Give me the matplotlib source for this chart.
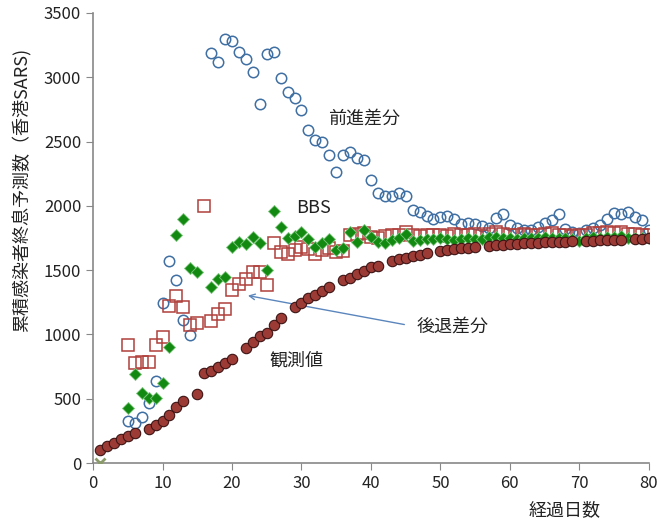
import numpy as np
import matplotlib
matplotlib.use("Agg")
import matplotlib.pyplot as plt

plt.rcParams['font.family'] = ['Noto Sans CJK JP', 'DejaVu Sans']

# 観測値 (observed cumulative cases)
obs_day = [1, 2, 3, 4, 5, 6, 8, 9, 10, 11, 12, 13, 15, 16, 17, 18, 19, 20, 22, 23, 24, 25, 26, 27,
           29, 30, 31, 32, 33, 34, 36, 37, 38, 39, 40, 41, 43, 44, 45, 46, 47, 48, 50, 51, 52, 53,
           54, 55, 57, 58, 59, 60, 61, 62, 63, 64, 65, 66, 67, 68, 69, 71, 72, 73, 74, 75, 76,
           78, 79, 80]
obs_val = [101, 135, 158, 184, 212, 236, 267, 296, 327, 376, 433, 485, 537, 698, 715, 744, 775, 806,
           892, 938, 988, 1008, 1070, 1125, 1210, 1245, 1280, 1310, 1340, 1371, 1420, 1440, 1467,
           1496, 1522, 1535, 1571, 1586, 1597, 1610, 1620, 1636, 1649, 1657, 1664, 1670, 1675, 1680,
           1688, 1693, 1698, 1702, 1705, 1708, 1711, 1714, 1716, 1718, 1720, 1722, 1724, 1728, 1730,
           1732, 1734, 1736, 1738, 1742, 1745, 1748]

# 前進差分 (forward difference)
fwd_day = [5, 6, 7, 8, 9, 10, 11, 12, 13, 14, 17, 18, 19, 20, 21, 22, 23, 24, 25, 26, 27, 28, 29, 30,
           31, 32, 33, 34, 35, 36, 37, 38, 39, 40, 41, 42, 43, 44, 45, 46, 47, 48, 49, 50, 51, 52,
           53, 54, 55, 56, 57, 58, 59, 60, 61, 62, 63, 64, 65, 66, 67, 68, 69, 70, 71, 72, 73, 74,
           75, 76, 77, 78, 79, 80]
fwd_val = [330, 315, 360, 465, 635, 1245, 1570, 1420, 1115, 995, 3190, 3120, 3295, 3285, 3195, 3140,
           3040, 2790, 3180, 3200, 2995, 2885, 2840, 2745, 2590, 2510, 2495, 2395, 2265, 2395, 2415,
           2370, 2355, 2200, 2100, 2075, 2075, 2100, 2075, 1965, 1955, 1920, 1895, 1915, 1920, 1895,
           1860, 1870, 1860, 1840, 1830, 1905, 1940, 1850, 1830, 1815, 1810, 1835, 1865, 1890, 1935,
           1820, 1800, 1790, 1810, 1830, 1855, 1900, 1945, 1935, 1955, 1910, 1890, 1810]

# 後退差分 (backward difference)
bwd_day = [5, 6, 7, 8, 9, 10, 11, 12, 13, 14, 15, 16, 17, 18, 19, 20, 21, 22, 23, 24, 25, 26, 27, 28,
           29, 30, 31, 32, 33, 34, 35, 36, 37, 38, 39, 40, 41, 42, 43, 44, 45, 46, 47, 48, 49, 50,
           51, 52, 53, 54, 55, 56, 57, 58, 59, 60, 61, 62, 63, 64, 65, 66, 67, 68, 69, 70, 71, 72,
           73, 74, 75, 76, 77, 78, 79, 80]
bwd_val = [918, 780, 788, 788, 918, 983, 1221, 1299, 1211, 1073, 1091, 1999, 1103, 1159, 1200, 1346,
           1390, 1429, 1488, 1488, 1384, 1709, 1643, 1625, 1657, 1682, 1662, 1625, 1657, 1670, 1643,
           1650, 1773, 1780, 1786, 1755, 1750, 1765, 1770, 1775, 1800, 1770, 1765, 1775, 1770, 1770,
           1765, 1780, 1775, 1770, 1780, 1765, 1785, 1795, 1780, 1775, 1770, 1780, 1775, 1770, 1785,
           1790, 1775, 1770, 1765, 1770, 1775, 1790, 1790, 1795, 1790, 1795, 1785, 1780, 1775, 1770]

# BBS
bbs_day = [5, 6, 7, 8, 9, 10, 11, 12, 13, 14, 15, 17, 18, 19, 20, 21, 22, 23, 24, 25, 26, 27, 28, 29,
           30, 31, 32, 33, 34, 35, 36, 37, 38, 39, 40, 41, 42, 43, 44, 45, 46, 47, 48, 49, 50, 51,
           52, 53, 54, 55, 56, 57, 58, 59, 60, 61, 62, 63, 64, 65, 66, 67, 68, 69, 70, 71, 72, 73,
           74, 75, 76, 77, 78, 79, 80]
bbs_val = [430, 695, 548, 503, 508, 620, 900, 1773, 1895, 1520, 1488, 1369, 1429, 1444, 1680, 1717,
           1700, 1760, 1711, 1504, 1958, 1836, 1748, 1766, 1799, 1740, 1680, 1709, 1740, 1660, 1676,
           1795, 1721, 1812, 1755, 1721, 1709, 1734, 1747, 1781, 1729, 1734, 1745, 1740, 1750, 1745,
           1738, 1742, 1748, 1745, 1740, 1755, 1760, 1752, 1748, 1745, 1750, 1748, 1752, 1758, 1750,
           1752, 1748, 1745, 1728, 1750, 1755, 1752, 1758, 1760, 1762, 1750, 1752, 1750, 1748]

fig = plt.figure(figsize=(6.57, 5.24), dpi=100)
ax = fig.add_axes([0.1416, 0.1164, 0.846, 0.8588])

ax.plot(fwd_day, fwd_val, 'o', ms=7.5, mfc='none', mec='#3f6fa3', mew=1.1, zorder=2)
ax.plot(bwd_day, bwd_val, 's', ms=8, mfc='none', mec='#b0403c', mew=1.1, zorder=3)
ax.plot(bbs_day, bbs_val, 'D', ms=6, mfc='#128a12', mec='#7fc77f', mew=0.6, zorder=4)
ax.plot(obs_day, obs_val, 'o', ms=7.5, mfc='#9c3b36', mec='#3d1414', mew=0.8, zorder=5)
ax.plot([1], [0], 'x', ms=7, mec='#8a9a6a', mew=2, zorder=6)

ax.text(39, 2680, '前進差分', fontsize=13, ha='center', va='center', color='#222222')
ax.text(31.7, 1983, 'BBS', fontsize=13, ha='center', va='center', color='#222222')
ax.text(51.7, 1058, '後退差分', fontsize=13, ha='center', va='center', color='#222222')
ax.text(29.3, 793, '観測値', fontsize=13, ha='center', va='center', color='#222222')
ax.annotate('', xy=(21.9, 1306), xytext=(45.2, 1073),
            arrowprops=dict(arrowstyle='->', color='#5b86bd', lw=1.0))

ax.set_xlim(0, 80)
ax.set_ylim(0, 3500)
ax.set_xticks(np.arange(0, 81, 10))
ax.set_yticks(np.arange(0, 3501, 500))
ax.tick_params(labelsize=12, colors='#888888', labelcolor='#222222', length=5, direction='out')
for s in ['top', 'right']:
    ax.spines[s].set_visible(False)
for s in ['left', 'bottom']:
    ax.spines[s].set_color('#888888')
    ax.spines[s].set_linewidth(1.2)

ax.set_xlabel('経過日数', fontsize=13, color='#222222')
ax.xaxis.set_label_coords(0.849, -0.085)
ax.set_ylabel('累積感染者終息予測数（香港SARS)', fontsize=13, color='#222222')
ax.yaxis.set_label_coords(-0.11, 0.607)

fig.savefig('out.png', dpi=100)
